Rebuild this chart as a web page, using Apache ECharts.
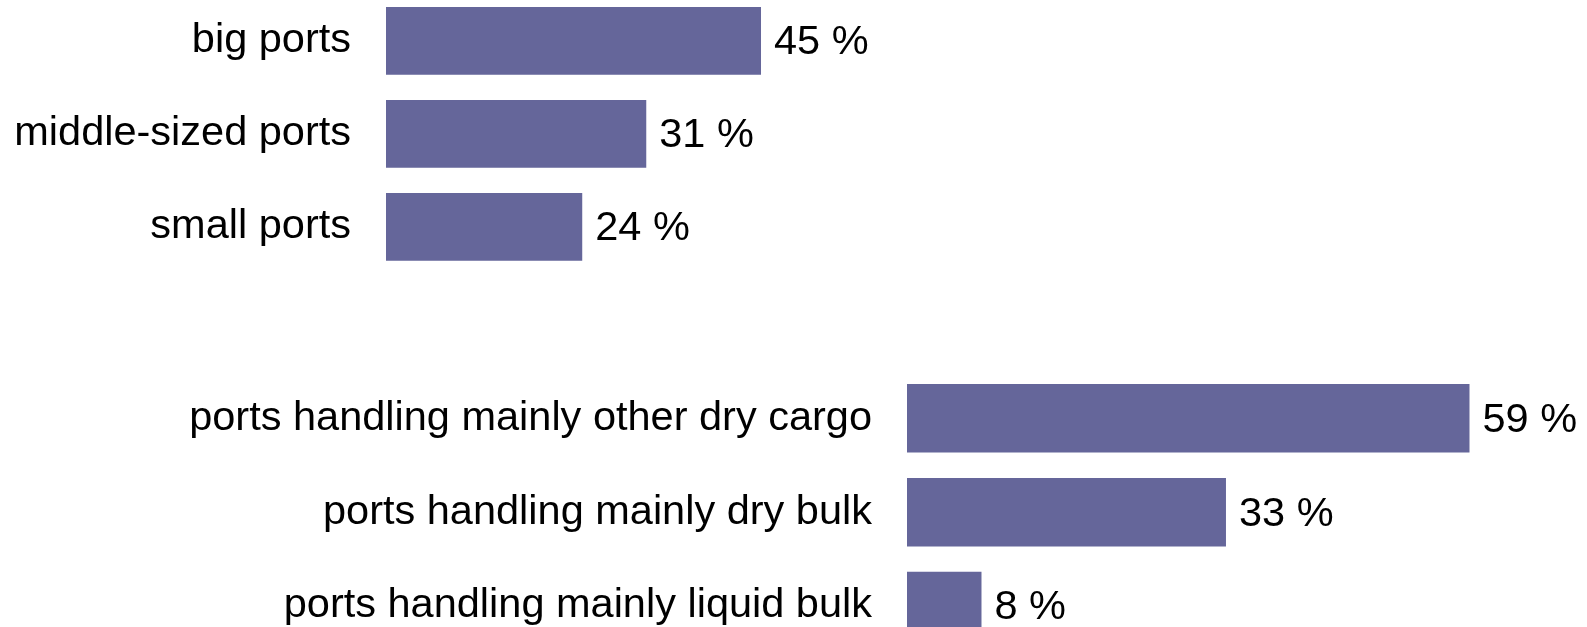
<!DOCTYPE html>
<html>
<head>
<meta charset="utf-8">
<script src="https://cdn.jsdelivr.net/npm/echarts@6/dist/echarts.min.js"></script>
<style>
  html, body { margin: 0; padding: 0; background: #fff; }
  #chart { width: 1587px; height: 627px; }
</style>
</head>
<body>
<div id="chart"></div>
<script>
// port size groups
const sizeNames = ['big ports', 'middle-sized ports', 'small ports'];
const sizeShares = [45.1, 31.3, 23.6];

// cargo type groups
const cargoNames = ['ports handling mainly other dry cargo', 'ports handling mainly dry bulk', 'ports handling mainly liquid bulk'];
const cargoShares = [58.9, 33.4, 7.8];

const barColor = '#65669a';
const font = 'Liberation Sans, Arial, Helvetica, sans-serif';
const fontSize = 41.5;

let myChart = echarts.init(document.getElementById('chart'));

// boundaryGap false puts the first and last bar on the grid edges,
// so the grid can stay inside the canvas
function catAxis(idx, names) {
  return {
    type: 'category',
    gridIndex: idx,
    inverse: true,
    boundaryGap: false,
    data: names,
    axisLine: { show: false },
    axisTick: { show: false },
    splitLine: { show: false },
    axisLabel: {
      margin: 35,
      fontSize: fontSize,
      color: '#000',
      fontFamily: font,
      padding: [4, 0, 0, 0]
    }
  }
}

function valAxis(idx, max) {
  return {
    type: 'value',
    gridIndex: idx,
    min: 0,
    max: max,
    show: false,
    splitLine: { show: false }
  }
}

function barSeries(idx, data, width) {
  return {
    type: 'bar',
    xAxisIndex: idx,
    yAxisIndex: idx,
    data: data,
    barWidth: width,
    itemStyle: { color: barColor },
    silent: true,
    animation: false,
    label: {
      show: true,
      position: 'right',
      distance: 13,
      offset: [0, 2],
      fontSize: fontSize,
      color: '#000',
      fontFamily: font,
      formatter: p => Math.round(p.value) + ' %'
    }
  }
}

let option = {
  backgroundColor: '#fff',
  animation: false,
  grid: [
    { left: 386, top: 40.8, width: 415.75, height: 186 },
    { left: 907, top: 418.3, width: 573, height: 188 }
  ],
  xAxis: [valAxis(0, 50), valAxis(1, 60)],
  yAxis: [catAxis(0, sizeNames), catAxis(1, cargoNames)],
  series: [
    barSeries(0, sizeShares, 67.7),
    barSeries(1, cargoShares, 68.5)
  ]
};

myChart.setOption(option);
</script>
</body>
</html>
